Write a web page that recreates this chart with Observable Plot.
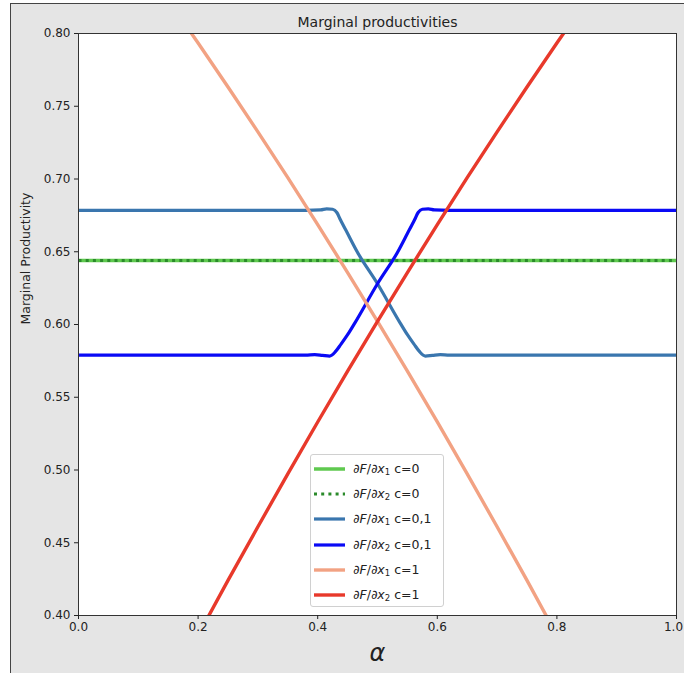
<!DOCTYPE html>
<html><head><meta charset="utf-8">
<script src="https://cdn.jsdelivr.net/npm/d3@7"></script>
<script src="https://cdn.jsdelivr.net/npm/@observablehq/plot@0.6"></script>
<style>
html,body{margin:0;padding:0;background:#fff;}
#wrap{position:relative;width:684px;height:673px;overflow:hidden;font-family:"DejaVu Sans",sans-serif;}
#bg{position:absolute;left:10px;top:3px;right:-2px;bottom:-2px;background:#e5e5e5;border-left:1px solid #444;border-top:1px solid #444;}
#chart{position:absolute;left:0;top:0;}
#legend{position:absolute;left:310px;top:454px;width:134px;height:153px;box-sizing:border-box;background:rgba(255,255,255,0.85);border:1px solid #d0d0d0;border-radius:3px;}
.row{position:absolute;left:0;height:20px;width:130px;}
.row svg{position:absolute;left:3px;top:0;}
.row span{position:absolute;left:42px;top:1px;font-size:12.5px;color:#222;white-space:nowrap;line-height:18px;}
.row sub{font-size:8.5px;vertical-align:-2px;line-height:0;}
</style>
</head><body>
<div id="wrap"><div id="bg"></div><div id="chart"></div><div id="legend"></div></div>
<script>
// ---- data ----
const titleText = "Marginal productivities";
const yLabelText = "Marginal Productivity";
const xLabelText = "α";
const xTicks = [0.0, 0.2, 0.4, 0.6, 0.8, 1.0];
const yTicks = [0.40, 0.45, 0.50, 0.55, 0.60, 0.65, 0.70, 0.75, 0.80];

// c = 0 (both marginal products constant)
const alphaC0 = [0.0, 1.0];
const x1C0 = [0.644, 0.644];
const x2C0 = [0.644, 0.644];

// c = 0,1
const alphaC01x1 = [0.000, 0.380, 0.405, 0.415, 0.425, 0.432, 0.438, 0.450, 0.466, 0.500, 0.538, 0.550, 0.561, 0.570, 0.580, 0.592, 0.605, 0.620, 1.000];
const x1C01 =      [0.6785, 0.6785, 0.6788, 0.6795, 0.6792, 0.6770, 0.6720, 0.6625, 0.6500, 0.6280, 0.6010, 0.5930, 0.5865, 0.5815, 0.5783, 0.5788, 0.5793, 0.5790, 0.5789];
const alphaC01x2 = [0.000, 0.380, 0.395, 0.408, 0.420, 0.430, 0.439, 0.450, 0.462, 0.500, 0.534, 0.550, 0.562, 0.568, 0.575, 0.585, 0.595, 0.620, 1.000];
const x2C01 =      [0.5789, 0.5790, 0.5793, 0.5788, 0.5783, 0.5815, 0.5865, 0.5930, 0.6010, 0.6280, 0.6500, 0.6625, 0.6720, 0.6770, 0.6792, 0.6795, 0.6788, 0.6785, 0.6785];

// c = 1
const alphaC1 = [0.10, 0.15, 0.20, 0.25, 0.30, 0.35, 0.40, 0.45, 0.50, 0.55, 0.60, 0.65, 0.70, 0.75, 0.80, 0.85, 0.90];
const x1C1 = [0.852, 0.823, 0.7935, 0.7632, 0.7324, 0.7009, 0.6687, 0.6357, 0.6022, 0.5679, 0.533, 0.4973, 0.461, 0.4241, 0.3864, 0.348, 0.309];
const x2C1 = [0.309, 0.348, 0.3864, 0.4241, 0.461, 0.4973, 0.533, 0.5679, 0.6022, 0.6357, 0.6687, 0.7009, 0.7324, 0.7632, 0.7935, 0.823, 0.852];

const seriesLabels = [
  ["1", "c=0"], ["2", "c=0"], ["1", "c=0,1"], ["2", "c=0,1"], ["1", "c=1"], ["2", "c=1"]
];

// ---- styles ----
const styles = [
  {stroke: "#5fc94f", strokeWidth: 3.5, dash: null},
  {stroke: "#2a8a2a", strokeWidth: 3.2, dash: "3,4.2"},
  {stroke: "#3a76ae", strokeWidth: 3.2, dash: null},
  {stroke: "#0a0af5", strokeWidth: 3.2, dash: null},
  {stroke: "#f2a283", strokeWidth: 3.4, dash: null},
  {stroke: "#e8392b", strokeWidth: 3.4, dash: null}
];

const toRows = (xs, ys) => xs.map((a, i) => ({a, v: ys[i]}));
const series = [
  {rows: toRows(alphaC0, x1C0), curve: "linear"},
  {rows: toRows(alphaC0, x2C0), curve: "linear"},
  {rows: toRows(alphaC01x1, x1C01), curve: "monotone-x"},
  {rows: toRows(alphaC01x2, x2C01), curve: "monotone-x"},
  {rows: toRows(alphaC1, x1C1), curve: "catmull-rom"},
  {rows: toRows(alphaC1, x2C1), curve: "catmull-rom"}
];

const lineMarks = series.map((s, i) => Plot.line(s.rows, {
  x: "a", y: "v", curve: s.curve, clip: true,
  stroke: styles[i].stroke, strokeWidth: styles[i].strokeWidth,
  strokeDasharray: styles[i].dash || undefined,
  strokeLinecap: "butt"
}));

const fmtX = d3.format(".1f");
const lastX = xTicks[xTicks.length - 1];

const chart = Plot.plot({
  width: 684, height: 673,
  marginLeft: 78, marginRight: 8, marginTop: 33, marginBottom: 58,
  style: {background: "transparent", fontFamily: "DejaVu Sans", color: "#222", overflow: "visible"},
  x: {domain: [0, 1]},
  y: {domain: [0.4, 0.8]},
  marks: [
    Plot.frame({fill: "white", stroke: null}),
    ...lineMarks,
    Plot.frame({stroke: "#333", strokeWidth: 1}),
    Plot.axisX({ticks: xTicks, tickFormat: d => (d === lastX ? "" : fmtX(d)), tickSize: 4, tickPadding: 3, fontSize: 12, label: null}),
    Plot.text([lastX], {x: d => d, text: d => fmtX(d), frameAnchor: "bottom", lineAnchor: "top", dy: 7, dx: -3, fontSize: 12}),
    Plot.axisY({ticks: yTicks, tickFormat: d3.format(".2f"), tickSize: 4, tickPadding: 4, fontSize: 12, label: null}),
    Plot.text([titleText], {text: d => d, frameAnchor: "top", dy: -16, fontSize: 14}),
    Plot.text([yLabelText], {text: d => d, frameAnchor: "left", dx: -53, rotate: -90, fontSize: 12.5}),
    Plot.text([xLabelText], {text: d => d, frameAnchor: "bottom", dy: 45, fontSize: 24, fontStyle: "italic"})
  ]
});
document.getElementById("chart").appendChild(chart);

// ---- legend ----
const leg = document.getElementById("legend");
seriesLabels.forEach(([sub, c], i) => {
  const row = document.createElement("div");
  row.className = "row";
  row.style.top = (4 + i * 25.2) + "px";
  const st = styles[i];
  row.innerHTML =
    `<svg width="34" height="20"><line x1="0" x2="31" y1="10" y2="10" stroke="${st.stroke}" stroke-width="${st.strokeWidth}" ${st.dash ? `stroke-dasharray="${st.dash}"` : ""}/></svg>` +
    `<span>∂<i>F</i>/∂<i>x</i><sub>${sub}</sub> ${c}</span>`;
  leg.appendChild(row);
});
</script>
</body></html>
